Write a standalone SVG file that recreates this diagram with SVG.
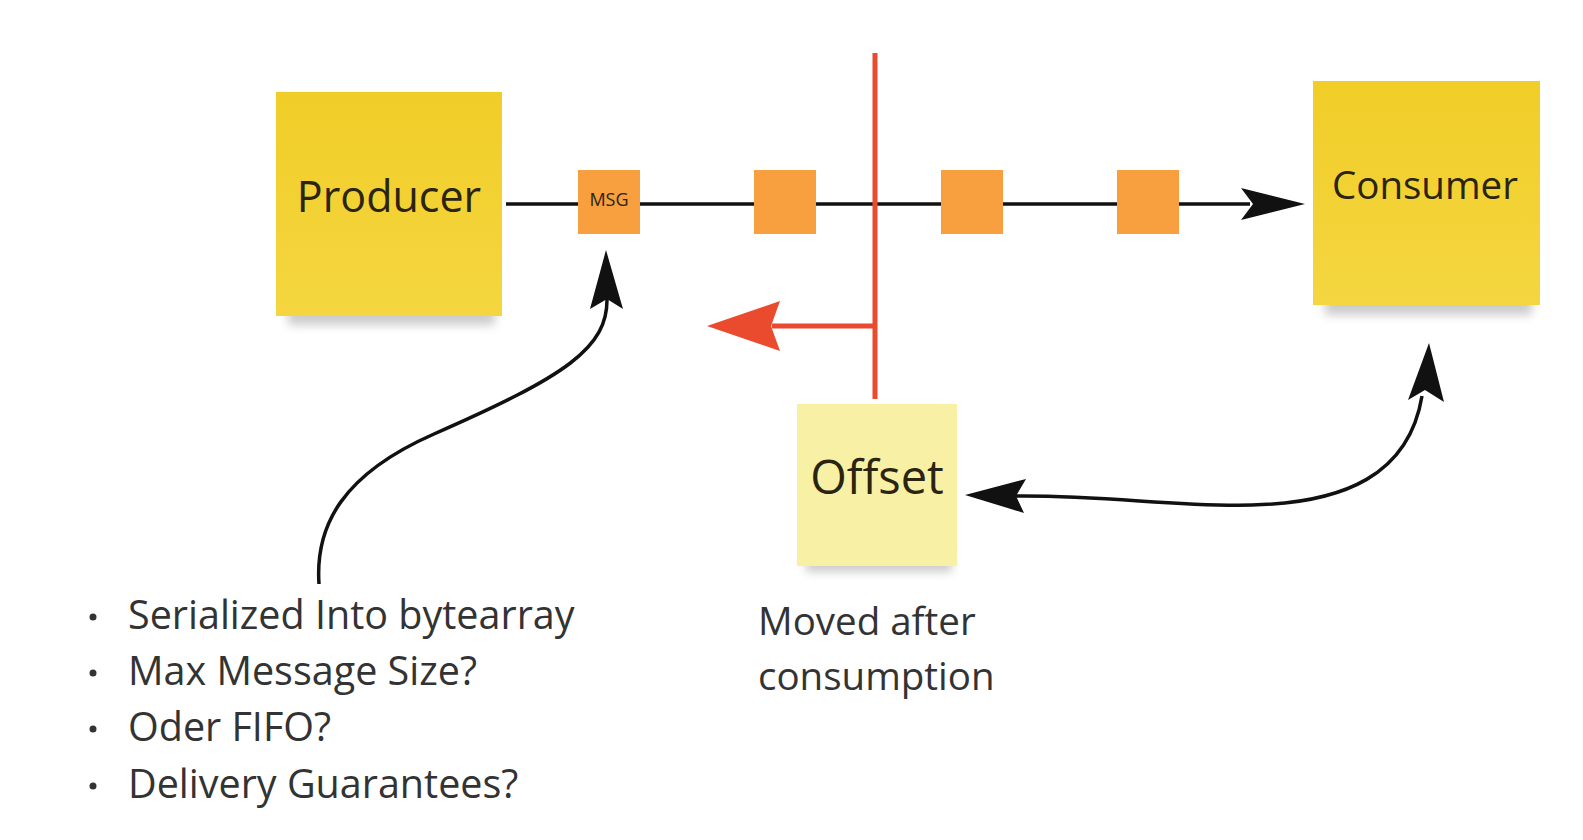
<svg xmlns="http://www.w3.org/2000/svg" width="1583" height="840" viewBox="0 0 1583 840">
<style>
.lbl{font-family:"Open Sans","Noto Sans",sans-serif;fill:#2a2410;text-anchor:middle}
.txt{font-family:"Open Sans","Noto Sans",sans-serif;fill:#333;font-size:39.5px}
.msg{fill:#F8A03F}
.blk{fill:none;stroke:#111;stroke-width:3.5}
.red{fill:none;stroke:#EA4A2E;stroke-width:5}
</style>
<defs>
<linearGradient id="yel" x1="0" y1="0" x2="0" y2="1"><stop offset="0" stop-color="#F1CD27"/><stop offset="1" stop-color="#F4D640"/></linearGradient>
<filter id="sh" x="-20%" y="-50%" width="140%" height="200%"><feGaussianBlur stdDeviation="5"/></filter>
</defs>
<rect width="1583" height="840" fill="#fff"/>
<g id="connectors">
<line x1="506" y1="204" x2="1250" y2="204" class="blk"/>
<path d="M1241,188 L1305,204 L1241,220 L1253,204 Z" fill="#111"/>
<line x1="875" y1="53" x2="875" y2="399" class="red"/>
<line x1="875" y1="326" x2="772" y2="326" class="red"/>
<path d="M707,326 L780,301 L771,326 L780,351 Z" fill="#EA4A2E"/>
<path d="M319,584 C315,525 343,474 434,434 C566,376 608,348 607,298" class="blk"/>
<path d="M606,250 L623,309 L607,299 L590,309 Z" fill="#111"/>
<path d="M1015,496 C1110,495 1172,507 1252,505 C1344,503 1409,475 1422,396" class="blk"/>
<path d="M965,495 L1026,479 L1016,496 L1024,513 Z" fill="#111"/>
<path d="M1429,343 L1444,402 L1425,390 L1408,400 Z" fill="#111"/>
</g>
<g id="producer">
<rect x="288" y="303" width="207" height="22" fill="#999" opacity="0.5" filter="url(#sh)"/>
<rect x="276" y="92" width="226" height="224" fill="url(#yel)"/>
<text x="389" y="212" class="lbl" font-size="43">Producer</text>
</g>
<g id="consumer">
<rect x="1325" y="293" width="207" height="22" fill="#999" opacity="0.5" filter="url(#sh)"/>
<rect x="1313" y="81" width="227" height="224" fill="url(#yel)"/>
<text x="1425" y="199" class="lbl" font-size="38.5">Consumer</text>
</g>
<g id="offset">
<rect x="806" y="554" width="146" height="18" fill="#999" opacity="0.5" filter="url(#sh)"/>
<rect x="797" y="404" width="160" height="162" fill="#F8F0A4"/>
<text x="877" y="494" class="lbl" font-size="47">Offset</text>
</g>
<g id="msg1">
<rect x="578" y="170" width="62" height="64" class="msg"/>
<text x="609" y="206" class="lbl" font-size="18">MSG</text>
</g>
<g id="msg2"><rect x="754" y="170" width="62" height="64" class="msg"/></g>
<g id="msg3"><rect x="941" y="170" width="62" height="64" class="msg"/></g>
<g id="msg4"><rect x="1117" y="170" width="62" height="64" class="msg"/></g>
<g id="offset-note">
<text x="758" y="635" class="txt" style="font-size:38.5px">Moved after</text>
<text x="758" y="690" class="txt" style="font-size:38.5px">consumption</text>
</g>
<g id="bullets">
<g fill="#333"><circle cx="93" cy="617" r="3.5"/><circle cx="93" cy="673" r="3.5"/><circle cx="93" cy="729" r="3.5"/><circle cx="93" cy="786" r="3.5"/></g>
<text x="128" y="629" class="txt">Serialized Into bytearray</text>
<text x="128" y="685" class="txt">Max Message Size?</text>
<text x="128" y="741" class="txt">Oder FIFO?</text>
<text x="128" y="798" class="txt">Delivery Guarantees?</text>
</g>
</svg>
